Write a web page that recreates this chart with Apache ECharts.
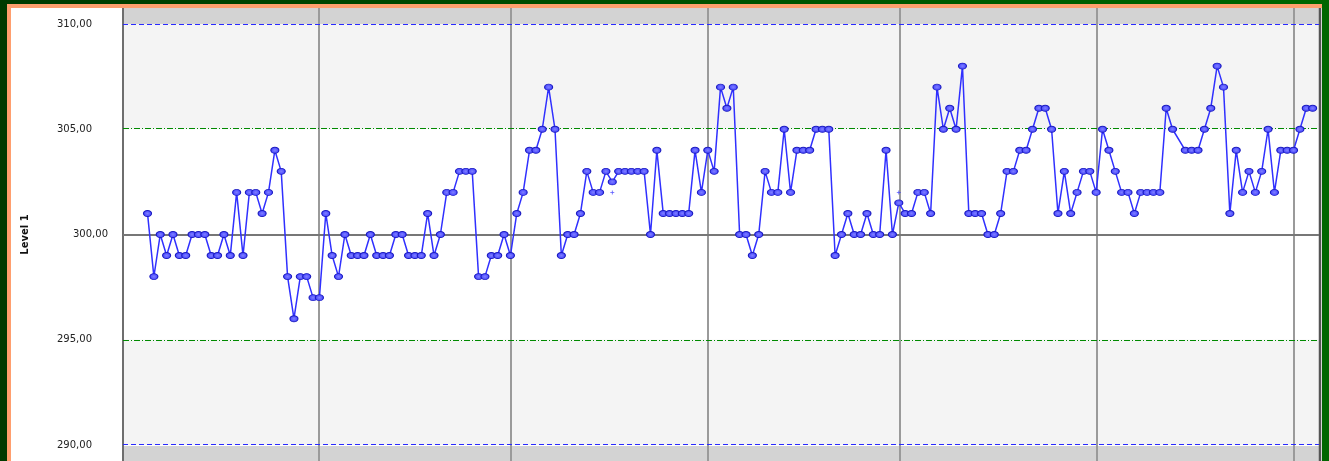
<!DOCTYPE html>
<html>
<head>
<meta charset="utf-8">
<script src="https://cdn.jsdelivr.net/npm/echarts@6/dist/echarts.min.js"></script>
<style>
  html, body { margin: 0; padding: 0; }
  body {
    width: 1329px; height: 461px; overflow: hidden; position: relative;
    background: linear-gradient(to right, #003a00, #006600);
  }
  .frame {
    position: absolute; left: 7px; top: 4px; width: 1311px; height: 457px;
    border-top: 4px solid #ff9f6e; border-left: 4px solid #ff9f6e;
    background: #ffffff;
  }
  #chart { position: absolute; left: 0; top: 0; width: 1329px; height: 461px; }
</style>
</head>
<body>
<div class="frame"></div>
<div id="chart"></div>
<script>
// Level 1 control values, one per run (null = no marker, line continues)
const level1 = [
  301, 298, 300, 299, 300, 299, 299, 300, 300, 300,
  299, 299, 300, 299, 302, 299, 302, 302, 301, 302,
  304, 303, 298, 296, 298, 298, 297, 297, 301, 299,
  298, 300, 299, 299, 299, 300, 299, 299, 299, 300,
  300, 299, 299, 299, 301, 299, 300, 302, 302, 303,
  303, 303, 298, 298, 299, 299, 300, 299, 301, 302,
  304, 304, 305, 307, 305, 299, 300, 300, 301, 303,
  302, 302, 303, 302.5, 303, 303, 303, 303, 303, 300,
  304, 301, 301, 301, 301, 301, 304, 302, 304, 303,
  307, 306, 307, 300, 300, 299, 300, 303, 302, 302,
  305, 302, 304, 304, 304, 305, 305, 305, 299, 300,
  301, 300, 300, 301, 300, 300, 304, 300, 301.5, 301,
  301, 302, 302, 301, 307, 305, 306, 305, 308, 301,
  301, 301, 300, 300, 301, 303, 303, 304, 304, 305,
  306, 306, 305, 301, 303, 301, 302, 303, 303, 302,
  305, 304, 303, 302, 302, 301, 302, 302, 302, 302,
  306, 305, null, 304, 304, 304, 305, 306, 308, 307,
  301, 304, 302, 303, 302, 303, 305, 302, 304, 304,
  304, 305, 306, 306
];
// small "+" marks (run index, value)
const crossMarks = [[73, 302], [118, 302]];
// day separators, in run-index units
const dayBreaks = [26.94, 57.09, 88.03, 118.19, 149.13, 180.07];
// control limits
const meanValue = 300;
const sd2Limits = [295, 305];
const sd4Limits = [290, 310];

const gridLeft = 123, gridTop = 24, gridRight = 10, gridBottom = 16;
const stripTop = 8;

const myChart = echarts.init(document.getElementById("chart"));

const pointData = level1.map((v, i) => [i, v]);

const option = {
  backgroundColor: "transparent",
  animation: false,
  textStyle: { fontFamily: "DejaVu Sans" },
  grid: {
    left: gridLeft,
    top: gridTop,
    right: gridRight,
    bottom: gridBottom,
    show: true,
    backgroundColor: "#ffffff",
    borderWidth: 0,
  },
  xAxis: {
    type: "value",
    min: -3.85,
    max: 184,
    show: false,
  },
  yAxis: {
    type: "value",
    min: 290,
    max: 310,
    interval: 5,
    name: "Level 1",
    nameLocation: "middle",
    nameRotate: 90,
    nameGap: 93,
    nameTextStyle: {
      color: "#111",
      fontSize: 10,
      fontWeight: "bold",
      fontFamily: "DejaVu Sans",
    },
    axisLine: { show: false },
    axisTick: { show: false },
    splitLine: { show: false },
    axisLabel: {
      margin: 15,
      color: "#222",
      fontSize: 10,
      fontFamily: "DejaVu Sans",
      formatter: (v) => {
        const s = v.toFixed(2).replace(".", ",");
        return v === meanValue ? s : "{o|" + s + "}";
      },
      rich: {
        o: { color: "#222", fontSize: 10, fontFamily: "DejaVu Sans", padding: [0, 16, 0, 0] },
      },
    },
  },
  series: [
    {
      // shaded bands between 2SD and 4SD
      type: "line",
      data: [],
      z: 1,
      silent: true,
      markArea: {
        silent: true,
        itemStyle: { color: "#f4f4f4" },
        data: [
          [{ yAxis: sd2Limits[1] }, { yAxis: sd4Limits[1] }],
          [{ yAxis: sd4Limits[0] }, { yAxis: sd2Limits[0] }],
        ],
      },
    },
    {
      type: "line",
      data: pointData,
      connectNulls: true,
      symbol: "circle",
      symbolSize: [8, 6],
      showSymbol: true,
      lineStyle: { color: "#3030ff", width: 1.5 },
      itemStyle: {
        color: new echarts.graphic.RadialGradient(0.5, 0.5, 0.6, [
          { offset: 0, color: "#8080ff" },
          { offset: 1, color: "#3030ff" },
        ]),
        borderColor: "#1c1cc0",
        borderWidth: 1,
      },
      z: 5,
    },
    {
      type: "scatter",
      data: crossMarks,
      symbol: "path://M2,0H3V2H5V3H3V5H2V3H0V2H2Z",
      symbolSize: 4,
      itemStyle: { color: "#3030ff" },
      z: 4,
    },
  ],
};
myChart.setOption(option);

// strips above/below the limits, limit lines and the vertical run separators
const W = 1329, H = 461;
const plotRight = W - gridRight;
const plotBottom = H - gridBottom;
const toPx = (pt) => myChart.convertToPixel({ gridIndex: 0 }, pt);

const graphics = [
  { type: "rect", shape: { x: gridLeft, y: stripTop, width: plotRight - gridLeft, height: gridTop - stripTop }, style: { fill: "#d3d3d3" }, z: -1 },
  { type: "rect", shape: { x: gridLeft, y: plotBottom + 1, width: plotRight - gridLeft, height: H - plotBottom }, style: { fill: "#d3d3d3" }, z: -1 },
];

const hLine = (val, stroke, dash, width) => {
  let y = Math.round(toPx([0, val])[1]);
  if (width % 2 === 1) {
    if (y % 2 === 1) y -= 1;
    y += 0.5;
  }
  graphics.push({
    type: "line",
    shape: { x1: gridLeft, y1: y, x2: plotRight, y2: y },
    style: { stroke: stroke, lineWidth: width, lineDash: dash },
    z: 3,
  });
};
hLine(sd4Limits[1], "#2a2aff", [5, 3], 1);
hLine(sd4Limits[0], "#2a2aff", [5, 3], 1);
hLine(sd2Limits[1], "#008a00", [6, 2, 1, 2], 1);
hLine(sd2Limits[0], "#008a00", [6, 2, 1, 2], 1);
hLine(meanValue, "#777777", null, 2);

dayBreaks.forEach((d) => {
  const x = Math.round(toPx([d, 300])[0]);
  graphics.push({
    type: "line",
    shape: { x1: x, y1: stripTop, x2: x, y2: H },
    style: { stroke: "#9a9a9a", lineWidth: 2 },
    z: 1,
  });
});
graphics.push({ type: "line", shape: { x1: gridLeft, y1: stripTop, x2: gridLeft, y2: H }, style: { stroke: "#6e6e6e", lineWidth: 2 }, z: 1 });
graphics.push({ type: "line", shape: { x1: plotRight + 1, y1: stripTop, x2: plotRight + 1, y2: H }, style: { stroke: "#555555", lineWidth: 2.5 }, z: 1 });
myChart.setOption({ graphic: graphics });
</script>
</body>
</html>
